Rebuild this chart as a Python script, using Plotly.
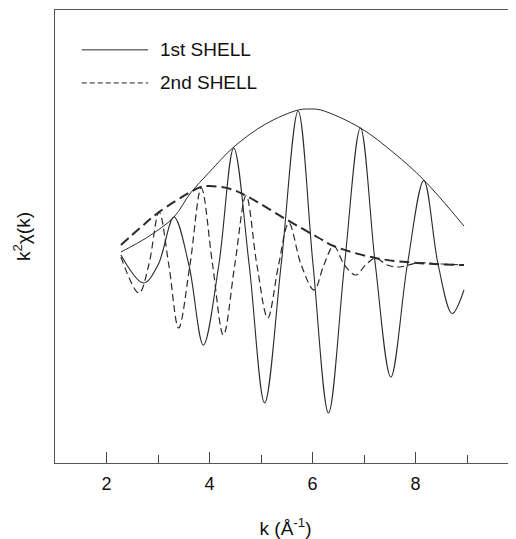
import plotly.graph_objects as go

# ---- data ----
k_s1_osc = [2.28, 2.72, 3.00, 3.31, 3.60, 3.88, 4.18, 4.47, 4.77, 5.07, 5.39, 5.72,
            6.01, 6.31, 6.62, 6.93, 7.22, 7.52, 7.84, 8.16, 8.44, 8.71, 8.94]
y_s1_osc = [0.10, -0.18, 0.0, 0.48, 0.0, -0.80, 0.0, 1.17, 0.0, -1.38, 0.0, 1.54,
            0.0, -1.48, 0.0, 1.37, 0.0, -1.12, 0.0, 0.845, 0.0, -0.485, -0.25]

k_s1_env = [2.28, 2.80, 3.31, 3.63, 4.00, 4.47, 5.09, 5.72, 5.93, 6.16, 6.93, 7.58, 8.16, 8.94]
y_s1_env = [0.13, 0.28, 0.48, 0.72, 0.93, 1.18, 1.41, 1.55, 1.56, 1.55, 1.37, 1.12, 0.85, 0.39]

k_s2_osc = [2.28, 2.63, 2.82, 3.02, 3.21, 3.40, 3.62, 3.84, 4.06, 4.27, 4.49, 4.71,
            4.92, 5.13, 5.34, 5.54, 5.78, 6.03, 6.22, 6.41, 6.62, 6.84, 7.03, 7.22,
            7.45, 7.69, 8.03, 8.50, 8.94]
y_s2_osc = [0.08, -0.28, 0.0, 0.53, 0.0, -0.63, 0.0, 0.77, 0.0, -0.70, 0.0, 0.695,
            0.0, -0.53, 0.0, 0.42, 0.0, -0.25, 0.0, 0.19, 0.0, -0.10, 0.0, 0.07,
            0.0, -0.02, 0.02, 0.01, 0.0]

k_s2_env = [2.28, 2.65, 3.02, 3.63, 3.83, 4.00, 4.41, 4.72, 5.51, 6.09, 6.41, 7.22, 8.03, 8.94]
y_s2_env = [0.20, 0.37, 0.53, 0.73, 0.78, 0.79, 0.76, 0.69, 0.45, 0.28, 0.19, 0.07, 0.02, 0.0]

x_ticks = [2, 4, 6, 8]
legend_names = ["1st SHELL", "2nd SHELL"]

INK = "#2a2a2a"
FONT = "Liberation Sans, Arial, sans-serif"

fig = go.Figure()
fig.add_trace(go.Scatter(x=k_s1_env, y=y_s1_env, mode="lines", line=dict(color=INK, width=1, shape="spline"),
                         name=legend_names[0], showlegend=False))
fig.add_trace(go.Scatter(x=k_s1_osc, y=y_s1_osc, mode="lines", line=dict(color=INK, width=1.1, shape="spline"),
                         name=legend_names[0], showlegend=False))
fig.add_trace(go.Scatter(x=k_s2_env, y=y_s2_env, mode="lines",
                         line=dict(color=INK, width=2, dash="10px,5px", shape="spline"),
                         name=legend_names[1], showlegend=False))
fig.add_trace(go.Scatter(x=k_s2_osc, y=y_s2_osc, mode="lines",
                         line=dict(color=INK, width=1.2, dash="7px,4px", shape="spline"),
                         name=legend_names[1], showlegend=False))

# manual legend (long sample lines as in the reference)
leg_y = [0.912, 0.839]
for i, (nm, dash) in enumerate(zip(legend_names, ["solid", "5px,3px"])):
    fig.add_shape(type="line", xref="paper", yref="paper", x0=0.058, x1=0.202, y0=leg_y[i], y1=leg_y[i],
                  line=dict(color=INK, width=1, dash=dash))
    fig.add_annotation(xref="paper", yref="paper", x=0.224, y=leg_y[i], text=nm, showarrow=False,
                       xanchor="left", yanchor="middle", font=dict(family=FONT, size=19, color="#111"))

fig.update_layout(
    width=508, height=531,
    margin=dict(l=47, r=0, t=2, b=76),
    paper_bgcolor="white", plot_bgcolor="white",
    font=dict(family=FONT, size=18, color="#111"),
    xaxis=dict(range=[1, 9.95], tickvals=x_ticks, ticks="inside", ticklen=11, tickcolor="#444",
               showline=True, mirror=True, linecolor="#555", linewidth=1, showgrid=False, zeroline=False,
               minor=dict(ticks="inside", ticklen=8, dtick=1, tick0=0, tickcolor="#444", showgrid=False),
               ticklabelstandoff=4, automargin=False,
               title=dict(text="k (Å<sup>-1</sup>)", standoff=29, font=dict(size=19)),
               tickfont=dict(size=18)),
    yaxis=dict(range=[-1.98, 2.55], showticklabels=False, ticks="", showline=True, linecolor="#555",
               linewidth=1, showgrid=False, zeroline=False, automargin=False,
               title=dict(text="k<sup>2</sup>χ(k)", standoff=18, font=dict(size=19))),
)

fig.write_html("out.html")
